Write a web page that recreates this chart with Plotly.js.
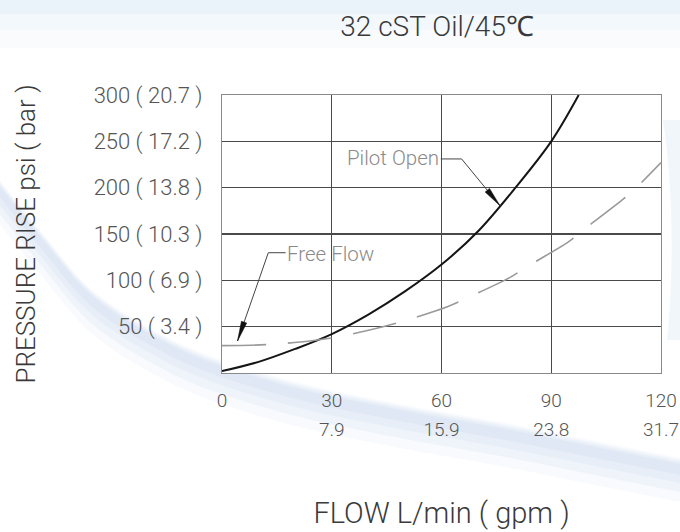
<!DOCTYPE html>
<html><head><meta charset="utf-8">
<script src="https://cdn.plot.ly/plotly-3.0.1.min.js"></script>
<style>html,body{margin:0;padding:0;background:#fff;}#chart{width:680px;height:532px;}</style>
</head><body><div id="chart"></div>
<script>
// ---- data ----
const pilotFlow = [0, 10, 20, 30, 40, 50, 60, 70, 80, 90, 97.5];
const pilotPsi  = [2, 12, 26, 42, 63, 88, 117, 153, 199, 250, 300];
const freeFlow  = [0, 8, 14, 24, 32, 44, 50, 61.6, 67, 78.5, 83.7, 94.4, 99.5, 109.4, 113.5, 120];
const freePsi   = [29.5, 30, 31, 34.6, 39.2, 50, 56.5, 71.6, 81, 102.6, 115.6, 140.7, 156.6, 186.8, 201, 227];
const xTickVals = [0, 30, 60, 90, 120];
const xTickLpm  = ['0', '30', '60', '90', '120'];
const xTickGpm  = ['', '7.9', '15.9', '23.8', '31.7'];
const yTickVals = [50, 100, 150, 200, 250, 300];
const yTickBar  = ['3.4', '6.9', '10.3', '13.8', '17.2', '20.7'];
const chartTitle = '32 cST Oil/45℃';
const xTitle = 'FLOW L/min ( gpm )';
const yTitle = 'PRESSURE RISE psi ( bar )';
const pilotLabel = 'Pilot Open';
const freeLabel = 'Free Flow';

const FONT = 'Roboto, "Liberation Sans", sans-serif';

// ---- background decoration helpers (pixel -> paper) ----
const L = 222, R = 661, T = 95, B = 373;
const pxX = x => (x - L) / (R - L);
const pxY = y => (B - y) / (B - T);
const fmt = p => pxX(p[0]).toFixed(4) + ',' + pxY(p[1]).toFixed(4);
function pPath(cmds) {
  return cmds.map(c => c[0] + ' ' + c.slice(1).map(fmt).join(' ')).join(' ') + ' Z';
}
// smooth (Catmull-Rom -> cubic) path segments through pixel points
function smoothSegs(pts) {
  let s = '';
  for (let i = 0; i < pts.length - 1; i++) {
    const p0 = pts[Math.max(i - 1, 0)], p1 = pts[i], p2 = pts[i + 1], p3 = pts[Math.min(i + 2, pts.length - 1)];
    const c1 = [p1[0] + (p2[0] - p0[0]) / 6, p1[1] + (p2[1] - p0[1]) / 6];
    const c2 = [p2[0] - (p3[0] - p1[0]) / 6, p2[1] - (p3[1] - p1[1]) / 6];
    s += ' C ' + fmt(c1) + ' ' + fmt(c2) + ' ' + fmt(p2);
  }
  return s;
}
// soft swoosh band (pixel centre line of the decorative background stripe)
const swoosh = [[-10,178],[40,240],[90,298],[150,338],[210,366],[300,393],[400,414],[500,432],[600,452],[690,470]];
function bandPath(wUp, wDn) {
  const up = swoosh.map(p => [p[0], p[1] - wUp]);
  const dn = swoosh.map(p => [p[0], p[1] + wDn]).reverse();
  return 'M ' + fmt(up[0]) + smoothSegs(up) + ' L ' + fmt(dn[0]) + smoothSegs(dn) + ' Z';
}
const bgShapes = [
  {type:'rect', xref:'paper', yref:'paper', x0:pxX(-5), x1:pxX(690), y0:pxY(-5), y1:pxY(14), fillcolor:'rgba(210,228,244,0.45)', line:{width:0}, layer:'below'},
  {type:'rect', xref:'paper', yref:'paper', x0:pxX(-5), x1:pxX(690), y0:pxY(14), y1:pxY(30), fillcolor:'rgba(220,235,247,0.35)', line:{width:0}, layer:'below'},
  {type:'rect', xref:'paper', yref:'paper', x0:pxX(-5), x1:pxX(690), y0:pxY(30), y1:pxY(48), fillcolor:'rgba(230,240,249,0.25)', line:{width:0}, layer:'below'}
];
[[10, 34, 0.10], [8, 24, 0.12], [6, 15, 0.14], [4, 7, 0.16]].forEach(b => {
  bgShapes.push({type:'path', xref:'paper', yref:'paper', layer:'below', line:{width:0},
                 fillcolor:'rgba(185,206,234,' + b[2] + ')', path: bandPath(b[0], b[1])});
});
bgShapes.push(
  {type:'path', xref:'paper', yref:'paper', layer:'below', line:{width:0}, fillcolor:'rgba(210,226,243,0.3)',
   path: pPath([['M',[663,120]], ['C',[672,180],[675,260],[667,340]], ['L',[690,340]], ['L',[690,120]]])},
  {type:'rect', xref:'paper', yref:'paper', x0:0, x1:1, y0:0, y1:1, fillcolor:'rgba(255,255,255,0.9)', line:{width:0}, layer:'below'}
);

// ---- leader lines & arrowheads (annotation decoration) ----
const leaderColor = '#444';
const annShapes = [
  {type:'line', xref:'x', yref:'y', x0:59.8, y0:231, x1:65.5, y1:231, line:{color:leaderColor, width:1}},
  {type:'line', xref:'x', yref:'y', x0:65.5, y0:231, x1:76.0, y1:180.5, line:{color:leaderColor, width:1}},
  {type:'path', xref:'x', yref:'y', xsizemode:'pixel', ysizemode:'pixel', xanchor:76.0, yanchor:180.5,
   path:'M0,0 L-14.9,13.7 L-10.5,17.3 Z', fillcolor:'#111', line:{width:0.5, color:'#111'}},
  {type:'line', xref:'x', yref:'y', x0:17.4, y0:129.8, x1:12.66, y1:129.8, line:{color:leaderColor, width:1}},
  {type:'line', xref:'x', yref:'y', x0:12.66, y0:129.8, x1:4.24, y1:34.5, line:{color:leaderColor, width:1}},
  {type:'path', xref:'x', yref:'y', xsizemode:'pixel', ysizemode:'pixel', xanchor:4.24, yanchor:34.5,
   path:'M0,0 L3.9,19.8 L9.2,18.0 Z', fillcolor:'#111', line:{width:0.5, color:'#111'}}
];

const traces = [
  {x: pilotFlow, y: pilotPsi, type:'scatter', mode:'lines', name: pilotLabel,
   line:{color:'#151515', width:2, shape:'spline', smoothing:1}, hoverinfo:'skip'},
  {x: freeFlow, y: freePsi, type:'scatter', mode:'lines', name: freeLabel,
   line:{color:'#9a9a9a', width:1.6, shape:'spline', smoothing:0.8, dash:'44px,22px'}, hoverinfo:'skip'},
  // carrier for the secondary (gpm) tick row
  {x: [], y: [], type:'scatter', mode:'lines', xaxis:'x2', yaxis:'y', showlegend:false, hoverinfo:'skip'}
];

const tickFontX = {family: FONT, size: 19, color: '#555', weight: 300};
const layout = {
  width: 680, height: 532,
  margin: {l: L, r: 680 - R, t: T, b: 532 - B, pad: 0},
  paper_bgcolor: '#ffffff',
  plot_bgcolor: 'rgba(0,0,0,0)',
  showlegend: false,
  title: {text: chartTitle, font:{family: FONT, size: 28, color:'#3a3a3a', weight: 300},
          xref:'paper', x: 0.49, xanchor:'center', yref:'container', y: 1 - 26/532, yanchor:'middle'},
  xaxis: {
    range: [0, 120], tickvals: xTickVals, ticktext: xTickLpm,
    ticks: '', ticklabelstandoff: 10,
    tickfont: tickFontX,
    showgrid: true, gridcolor: '#4a4a4a', gridwidth: 1.1,
    showline: true, linecolor: '#8a8a8a', linewidth: 1.2, mirror: true,
    zeroline: false, fixedrange: true,
    title: {text: xTitle, font:{family: FONT, size: 29, color:'#3a3a3a', weight: 300}, standoff: 91}
  },
  xaxis2: {
    overlaying: 'x', matches: 'x', anchor: 'y', side: 'bottom',
    range: [0, 120], tickvals: xTickVals, ticktext: xTickGpm,
    ticks: '', ticklabelstandoff: 43, tickfont: tickFontX,
    showgrid: false, showline: false, zeroline: false, fixedrange: true
  },
  yaxis: {
    range: [0, 300], tickvals: yTickVals,
    ticktext: yTickVals.map((v, i) => v + ' ( ' + yTickBar[i] + ' )'),
    ticks: '', ticklabelstandoff: 14,
    tickfont: {family: FONT, size: 22, color: '#555', weight: 300},
    showgrid: true, gridcolor: '#4a4a4a', gridwidth: 1.1,
    showline: true, linecolor: '#8a8a8a', linewidth: 1.2, mirror: true,
    zeroline: false, fixedrange: true,
    title: {text: yTitle, font:{family: FONT, size: 26, color:'#3a3a3a', weight: 300}, standoff: 50}
  },
  shapes: bgShapes.concat(annShapes),
  annotations: [
    {xref:'x', yref:'y', x: 46.8, y: 232, text: pilotLabel, showarrow:false, xanchor:'center', yanchor:'middle',
     font:{family: FONT, size: 20.5, color:'#8a8a8a', weight: 300}},
    {xref:'x', yref:'y', x: 29.6, y: 128.5, text: freeLabel, showarrow:false, xanchor:'center', yanchor:'middle',
     font:{family: FONT, size: 20.5, color:'#8a8a8a', weight: 300}}
  ]
};

Plotly.newPlot('chart', traces, layout, {displayModeBar: false, staticPlot: true});
</script>
</body></html>
